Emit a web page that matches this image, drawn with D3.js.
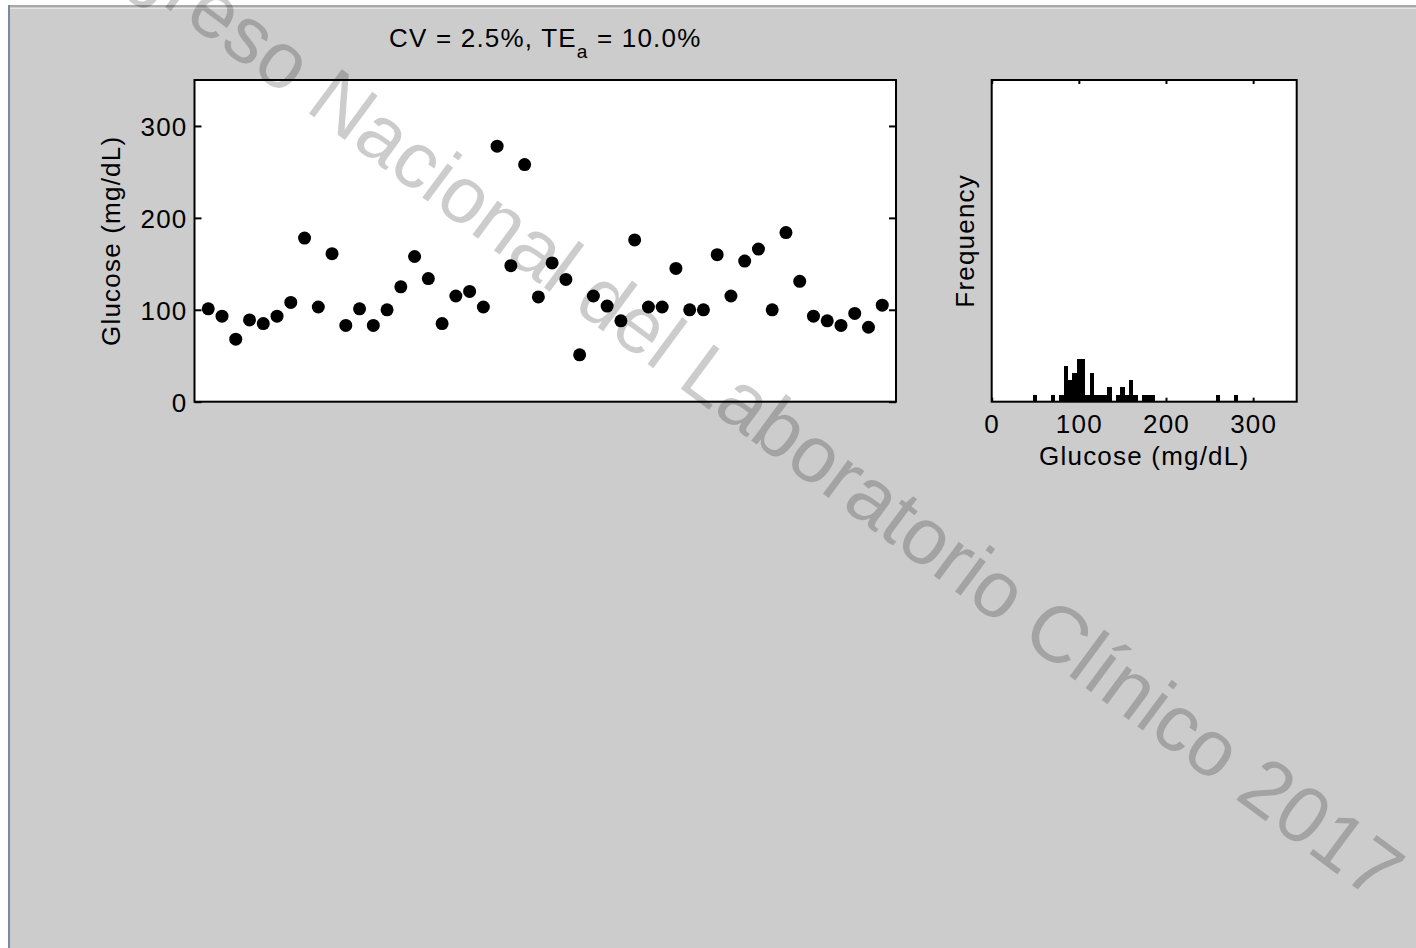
<!DOCTYPE html>
<html>
<head>
<meta charset="utf-8">
<script src="https://cdn.jsdelivr.net/npm/d3@7"></script>
<style>
  body { margin: 0; background: #fff; }
  svg { display: block; }
  text { font-family: "Liberation Sans", Arial, sans-serif; }
</style>
</head>
<body>
<script>
// glucose readings (mg/dL), one per sample, in order
const glucose = [
  101, 93, 68, 89, 85, 93, 108, 178, 103, 161,
  83, 101, 83, 100, 125, 158, 134, 85, 115, 120,
  103, 278, 148, 258, 114, 151, 133, 51, 115, 104,
  88, 176, 103, 103, 145, 100, 100, 160, 115, 153,
  166, 100, 184, 131, 93, 88, 83, 96, 81, 105
];
const yTicks = [0, 100, 200, 300];
const histTicks = [0, 100, 200, 300];
const freqMax = 45;
const titleMain = "CV = 2.5%, TE";
const titleSub = "a";
const titleRest = " = 10.0%";
const yLabel = "Glucose (mg/dL)";
const histYLabel = "Frequency";
const histXLabel = "Glucose (mg/dL)";
const watermark = "Congreso Nacional del Laboratorio Clínico 2017";

const width = 1416, height = 948;
const fontSize = 26, spacing = 1.2;

const svg = d3.select("body").append("svg")
  .attr("width", width)
  .attr("height", height);

// window background + frame edges
svg.append("rect").attr("x", 0).attr("y", 0).attr("width", width).attr("height", height).attr("fill", "#fff");
svg.append("rect").attr("x", 8).attr("y", 5).attr("width", width - 8).attr("height", height - 5).attr("fill", "#cccccc");
svg.append("line").attr("x1", 8).attr("x2", width).attr("y1", 6).attr("y2", 6).attr("stroke", "#a9a9a9").attr("stroke-width", 2);
svg.append("line").attr("x1", 10).attr("x2", width).attr("y1", 8.5).attr("y2", 8.5).attr("stroke", "#e4e4e4").attr("stroke-width", 1);
svg.append("line").attr("x1", 9).attr("x2", 9).attr("y1", 5).attr("y2", height).attr("stroke", "#7b8aa0").attr("stroke-width", 2);

// ---- left panel: scatter of glucose by sample ----
const L = { left: 194.5, right: 896, top: 80, bottom: 401.7 };

const x = d3.scaleLinear().domain([0, glucose.length + 1]).range([L.left, L.right]);
const y = d3.scaleLinear().domain([0, 350]).range([L.bottom, L.top]);

const left = svg.append("g");
left.append("rect")
  .attr("x", L.left).attr("y", L.top)
  .attr("width", L.right - L.left).attr("height", L.bottom - L.top)
  .attr("fill", "#fff");

left.selectAll("circle")
  .data(glucose)
  .join("circle")
  .attr("cx", (d, i) => x(i + 1))
  .attr("cy", d => y(d))
  .attr("r", 6.5)
  .attr("fill", "#000");

const yAxisL = left.append("g")
  .attr("transform", `translate(${L.left},0)`)
  .call(d3.axisLeft(y).tickValues(yTicks).tickSize(-7).tickPadding(7));
const yAxisR = left.append("g")
  .attr("transform", `translate(${L.right},0)`)
  .call(d3.axisRight(y).tickValues(yTicks).tickSize(-7).tickFormat(""));

left.append("rect")
  .attr("x", L.left).attr("y", L.top)
  .attr("width", L.right - L.left).attr("height", L.bottom - L.top)
  .attr("fill", "none").attr("stroke", "#000").attr("stroke-width", 2);

left.append("text")
  .attr("transform", `translate(120,${(L.top + L.bottom) / 2}) rotate(-90)`)
  .attr("text-anchor", "middle")
  .attr("font-size", fontSize)
  .attr("letter-spacing", spacing)
  .text(yLabel);

const title = svg.append("text")
  .attr("x", (L.left + L.right) / 2)
  .attr("y", 47)
  .attr("text-anchor", "middle")
  .attr("font-size", fontSize)
  .attr("letter-spacing", spacing);
title.append("tspan").text(titleMain);
title.append("tspan").attr("font-size", 19).attr("dy", 11).text(titleSub);
title.append("tspan").attr("dy", -11).text(titleRest);

// ---- right panel: histogram ----
const H = { left: 991.7, right: 1296.7, top: 80, bottom: 401.7 };

const hx = d3.scaleLinear().domain([0, 350]).range([H.left, H.right]);
const hy = d3.scaleLinear().domain([0, freqMax]).range([H.bottom, H.top]);

const bins = d3.bin()
  .domain([-2.5, 352.5])
  .thresholds(d3.range(2.5, 352.5, 5))(glucose)
  .filter(b => b.length > 0);

const hist = svg.append("g");
hist.append("rect")
  .attr("x", H.left).attr("y", H.top)
  .attr("width", H.right - H.left).attr("height", H.bottom - H.top)
  .attr("fill", "#fff");

hist.selectAll("rect.bar")
  .data(bins)
  .join("rect")
  .attr("class", "bar")
  .attr("x", d => hx(d.x0))
  .attr("y", d => hy(d.length))
  .attr("width", d => hx(d.x1) - hx(d.x0))
  .attr("height", d => hy(0) - hy(d.length))
  .attr("fill", "#000")
  .attr("shape-rendering", "crispEdges");

const hAxisB = hist.append("g")
  .attr("transform", `translate(0,${H.bottom})`)
  .call(d3.axisBottom(hx).tickValues(histTicks).tickSize(-4).tickPadding(13));
const hAxisT = hist.append("g")
  .attr("transform", `translate(0,${H.top})`)
  .call(d3.axisTop(hx).tickValues(histTicks).tickSize(-4).tickFormat(""));

hist.append("rect")
  .attr("x", H.left).attr("y", H.top)
  .attr("width", H.right - H.left).attr("height", H.bottom - H.top)
  .attr("fill", "none").attr("stroke", "#000").attr("stroke-width", 2);

hist.append("text")
  .attr("transform", `translate(974,${(H.top + H.bottom) / 2}) rotate(-90)`)
  .attr("text-anchor", "middle")
  .attr("font-size", fontSize)
  .attr("letter-spacing", spacing)
  .text(histYLabel);

hist.append("text")
  .attr("x", (H.left + H.right) / 2)
  .attr("y", 465)
  .attr("text-anchor", "middle")
  .attr("font-size", fontSize)
  .attr("letter-spacing", spacing)
  .text(histXLabel);

// shared axis styling
[yAxisL, yAxisR, hAxisB, hAxisT].forEach(g => {
  g.select(".domain").remove();
  g.selectAll(".tick line").attr("stroke", "#000").attr("stroke-width", 2);
  g.selectAll(".tick text")
    .attr("font-size", fontSize)
    .attr("letter-spacing", spacing)
    .attr("fill", "#000")
    .attr("font-family", null);
});
yAxisL.selectAll(".tick text").attr("dy", "0.38em");

// ---- watermark ----
svg.append("text")
  .attr("transform", "translate(7,-110) rotate(36.5)")
  .attr("font-size", 80)
  .attr("fill", "#000")
  .attr("fill-opacity", 0.2)
  .text(watermark);
</script>
</body>
</html>
